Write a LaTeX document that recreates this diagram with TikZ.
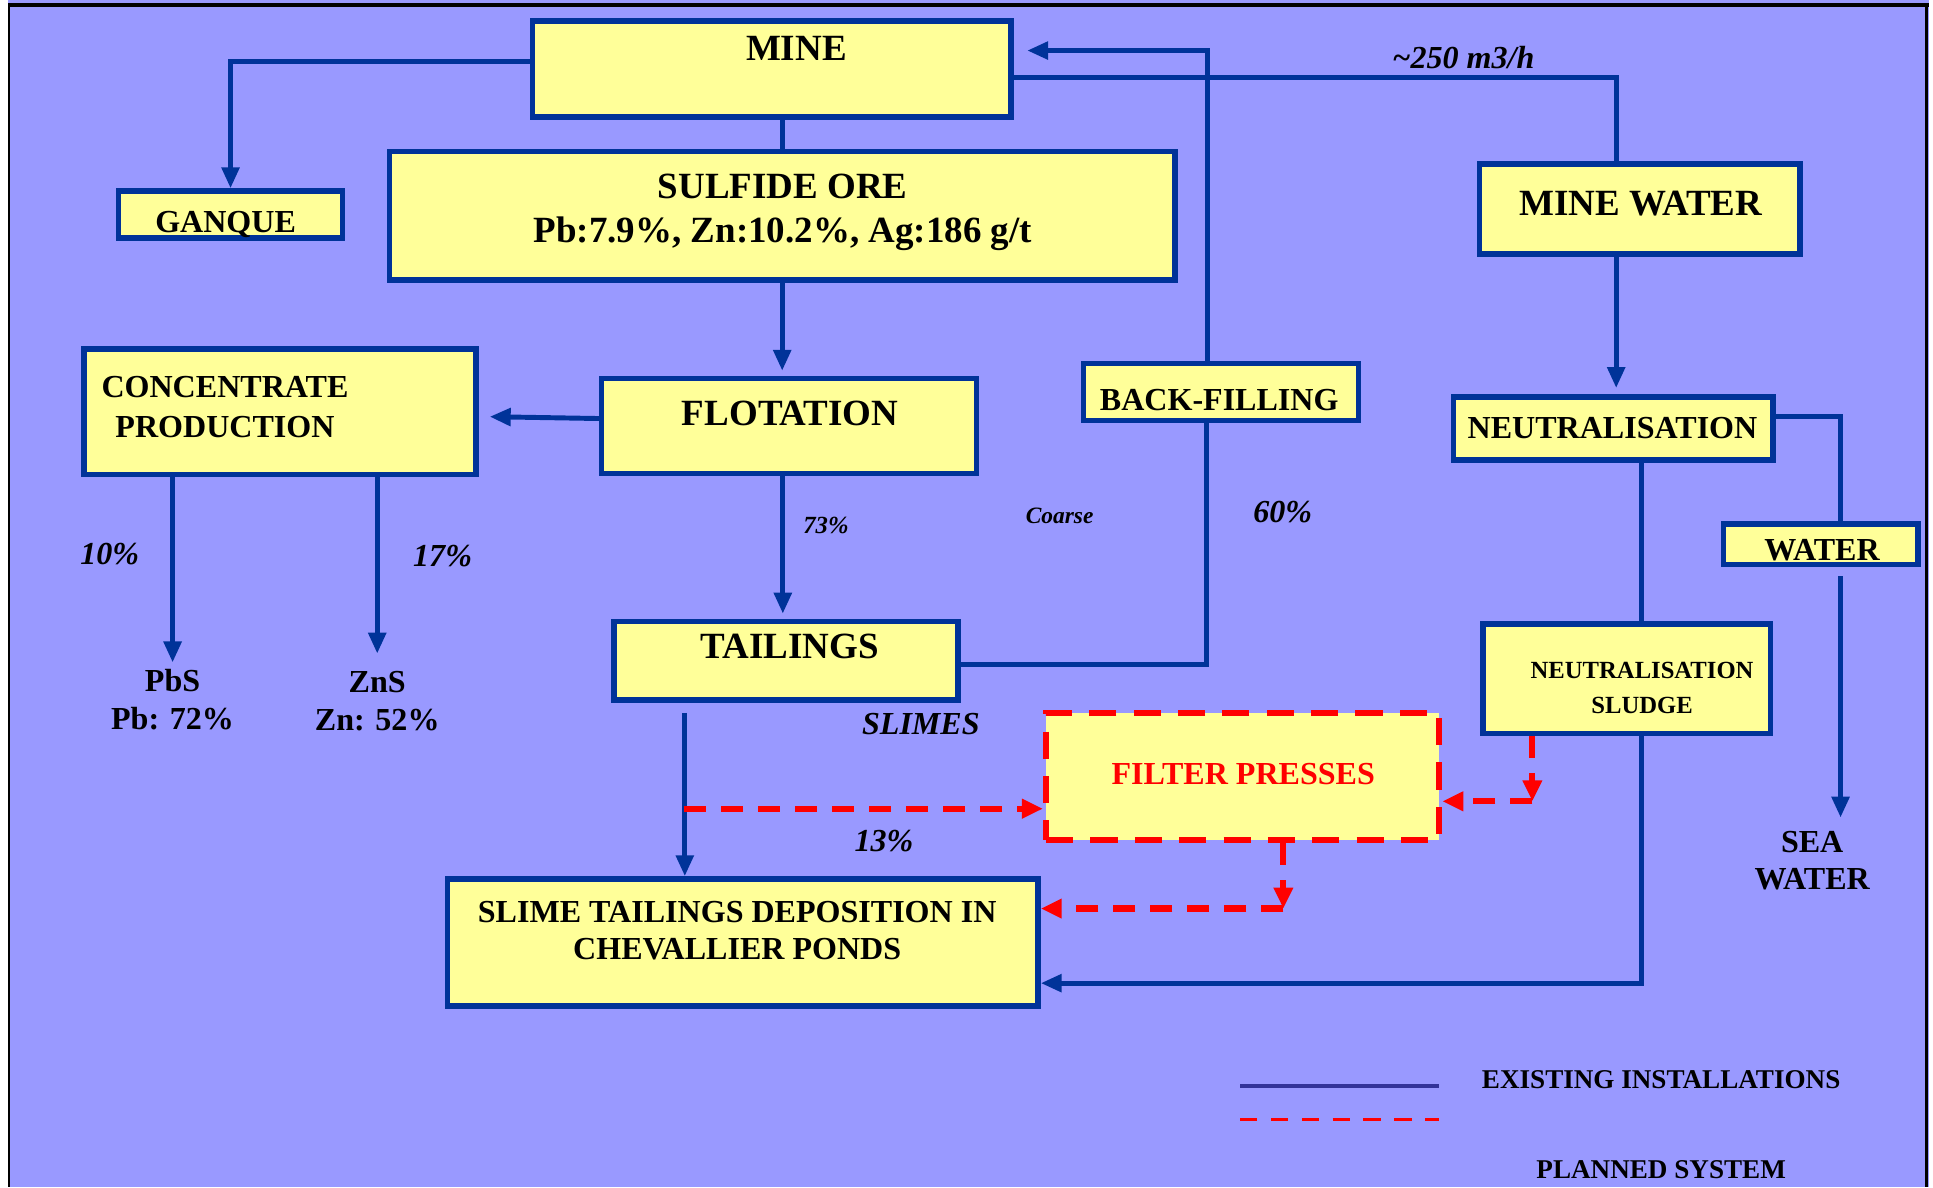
\documentclass[tikz,border=0pt]{standalone}
\usepackage{fontspec}
\setmainfont{Liberation Serif}
\usetikzlibrary{arrows.meta}

\begin{document}
\begin{tikzpicture}[x=1pt, y=-1pt,
    box/.style={draw=lineBlue, fill=boxYellow, line width=4.5pt, inner sep=0pt},
    planbox/.style={draw=planRed, fill=boxYellow, line width=5pt, dash pattern=on 22pt off 14pt, inner sep=0pt},
    lbl/.style={anchor=base, inner sep=0pt, align=center, font=\bfseries\fontsize{26}{30}\selectfont},
    biglbl/.style={lbl, font=\bfseries\fontsize{30}{36}\selectfont},
    smalllbl/.style={lbl, font=\bfseries\fontsize{20}{28}\selectfont},
    note/.style={lbl, font=\bfseries\itshape\fontsize{26}{30}\selectfont},
    smallnote/.style={lbl, font=\bfseries\itshape\fontsize{20}{24}\selectfont},
    legendlbl/.style={lbl, font=\bfseries\fontsize{22}{26}\selectfont},
    flow/.style={draw=lineBlue, line width=4pt},
    flowarr/.style={flow, -{Triangle[length=17pt,width=14pt]}},
    plan/.style={draw=planRed, line width=5pt, dash pattern=on 18pt off 12pt},
    planarr/.style={plan, -{Triangle[length=17pt,width=15pt]}},
]
    \definecolor{bgPurple}{HTML}{9999FF}
    \definecolor{boxYellow}{HTML}{FFFF99}
    \definecolor{lineBlue}{HTML}{003399}
    \definecolor{planRed}{HTML}{FF0000}
    \definecolor{legendBlue}{HTML}{333399}

    \useasboundingbox (0,0) rectangle (1568,963);

    % Draw background and frame
    \fill[white] (0,0) rectangle (1568,963);
    \fill[bgPurple] (6.5,0) rectangle (1565,963);
    \draw[black, line width=3pt] (6.5,4) -- (1565,4);
    \draw[black, line width=2pt] (7.5,3) -- (7.5,963);
    \draw[black, line width=2.5pt] (1563,3) -- (1563,963);

    % Draw boxes
    \node[box, minimum width=388pt, minimum height=78pt] (mine) at (626,56) {};
    \node[box, minimum width=182pt, minimum height=38pt] (ganque) at (187,174) {};
    \node[box, minimum width=637pt, minimum height=104pt] (ore) at (634.5,175) {};
    \node[box, minimum width=260pt, minimum height=73pt] (minewater) at (1330,169.5) {};
    \node[box, minimum width=318pt, minimum height=102pt] (conc) at (227,334) {};
    \node[box, minimum width=304pt, minimum height=77pt] (flot) at (640,345.5) {};
    \node[box, minimum width=223pt, minimum height=46pt] (backfill) at (990.5,318) {};
    \node[box, minimum width=259pt, minimum height=51pt] (neutr) at (1308.5,347.5) {};
    \node[box, minimum width=158pt, minimum height=33pt] (water) at (1477,441.5) {};
    \node[box, minimum width=279pt, minimum height=64pt] (tail) at (637.5,536) {};
    \node[box, minimum width=233pt, minimum height=89pt] (sludge) at (1319.5,550.5) {};
    \node[planbox, minimum width=319pt, minimum height=103pt] (filter) at (1008,630) {};
    \node[box, minimum width=479pt, minimum height=103pt] (slime) at (602.5,764.5) {};

    % Box texts (multi-line ones sit on their last baseline)
    \node[biglbl] (mineLbl) at (646,49) {MINE};
    \node[lbl] (ganqueLbl) at (183,188.6) {GANQUE};
    \node[biglbl] (oreLbl) at (635,197) {SULFIDE ORE\\Pb:7.9\%, Zn:10.2\%, Ag:186 g/t};
    \node[biglbl] (minewaterLbl) at (1331,175) {MINE WATER};
    \node[lbl, font=\bfseries\fontsize{26}{32}\selectfont] (concLbl) at (182.5,354.6) {CONCENTRATE\\PRODUCTION};
    \node[biglbl] (flotLbl) at (641,345) {FLOTATION};
    \node[lbl] (backfillLbl) at (989,332.6) {BACK-FILLING};
    \node[lbl] (neutrLbl) at (1308,355.6) {NEUTRALISATION};
    \node[lbl] (waterLbl) at (1478,454.6) {WATER};
    \node[biglbl] (tailLbl) at (640.5,534) {TAILINGS};
    \node[smalllbl] (sludgeLbl) at (1332,578.6) {NEUTRALISATION\\SLUDGE};
    \node[lbl, text=planRed] (filterLbl) at (1008.5,636.6) {FILTER PRESSES};
    \node[lbl] (slimeLbl) at (598,778.6) {SLIME TAILINGS DEPOSITION IN\\CHEVALLIER PONDS};

    % Products and flow notes
    \node[lbl, font=\bfseries\fontsize{26}{31}\selectfont] (pbsLbl) at (140,591.6) {PbS\\Pb: 72\%};
    \node[lbl, font=\bfseries\fontsize{26}{31}\selectfont] (znsLbl) at (306,592.6) {ZnS\\Zn: 52\%};
    \node[lbl] (seaLbl) at (1470,721.6) {SEA\\WATER};
    \node[note] (rateLbl) at (1187,55.6) {\textasciitilde250 m3/h};
    \node[smallnote] (pct73) at (670,432.6) {73\%};
    \node[smallnote, font=\bfseries\itshape\fontsize{19}{24}\selectfont] (coarseLbl) at (859.5,424.3) {Coarse};
    \node[note] (pct60) at (1040.5,423.6) {60\%};
    \node[note] (pct10) at (89,457.6) {10\%};
    \node[note] (pct17) at (359,459.6) {17\%};
    \node[note] (slimesLbl) at (747,595.6) {SLIMES};
    \node[note] (pct13) at (717,690.6) {13\%};

    % Existing connections
    \draw[flowarr] ([yshift=6pt]mine.west) -| (ganque.north);
    \draw[flow] (mine.south -| ore.north) -- (ore.north);
    \draw[flowarr, shorten >=4pt] (ore.south) -- (ore.south |- flot.north);
    \draw[flowarr] ([yshift=6pt]flot.west) -- ([xshift=9pt,yshift=-4pt]conc.east);
    \draw[flowarr, shorten >=4pt] ([xshift=-5pt]flot.south) -- ([xshift=-5pt]flot.south |- tail.north);
    \draw[flowarr, shorten >=5pt] (conc.south -| pbsLbl.north) -- (pbsLbl.north);
    \draw[flowarr, shorten >=14pt] (conc.south -| znsLbl.north) -- (znsLbl.north);
    \draw[flow] ([yshift=-3pt]tail.east) -| ([xshift=-12pt]backfill.south);
    \draw[flowarr] ([xshift=-11pt]backfill.north) |- ([xshift=11pt,yshift=15pt]mine.east);
    \draw[flow] ([yshift=-7pt]mine.east) -| ([xshift=-19pt]minewater.north);
    \draw[flowarr, shorten >=5pt] ([xshift=-19pt]minewater.south) -- ([xshift=-19pt]minewater.south |- neutr.north);
    \draw[flow] ([yshift=10pt]neutr.east) -| ([xshift=16pt]water.north);
    \draw[flowarr, shorten >=11pt] ([xshift=16pt,yshift=-7pt]water.south) -- ([xshift=16pt]water.south |- seaLbl.north);
    \coordinate (sl) at ([xshift=12pt]sludge.north);
    \draw[flow] (neutr.south -| sl) -- (sl);
    \draw[flowarr] ([xshift=12pt]sludge.south) |- ([yshift=-33pt]slime.east);
    \draw[flowarr] ([xshift=-82pt,yshift=-8pt]tail.south) -- ([xshift=-82pt]tail.south |- slime.north);

    % Planned connections
    \coordinate (tj) at (555,656);
    \draw[planarr] (tj) -- (tj -| filter.west);
    \coordinate (sc) at (1243,650);
    \draw[planarr] (sludge.south -| sc) -- (sc);
    \draw[planarr] (sc) -- (sc -| filter.east);
    \coordinate (fc) at (1041,737);
    \draw[planarr] (filter.south -| fc) -- (fc);
    \draw[planarr] (fc) -- (fc -| slime.east);

    % Legend
    \coordinate (exA) at (1006,881);
    \coordinate (exB) at (1167,881);
    \coordinate (plA) at (1006,908);
    \coordinate (plB) at (1167,908);
    \draw[legendBlue, line width=3pt] (exA) -- (exB);
    \draw[planRed, line width=3pt, dash pattern=on 14pt off 11pt] (plA) -- (plB);
    \node[legendlbl] (existLbl) at (1347.5,883.3) {EXISTING INSTALLATIONS};
    \node[legendlbl] (plannedLbl) at (1347.5,956.3) {PLANNED SYSTEM};

\end{tikzpicture}
\end{document}
